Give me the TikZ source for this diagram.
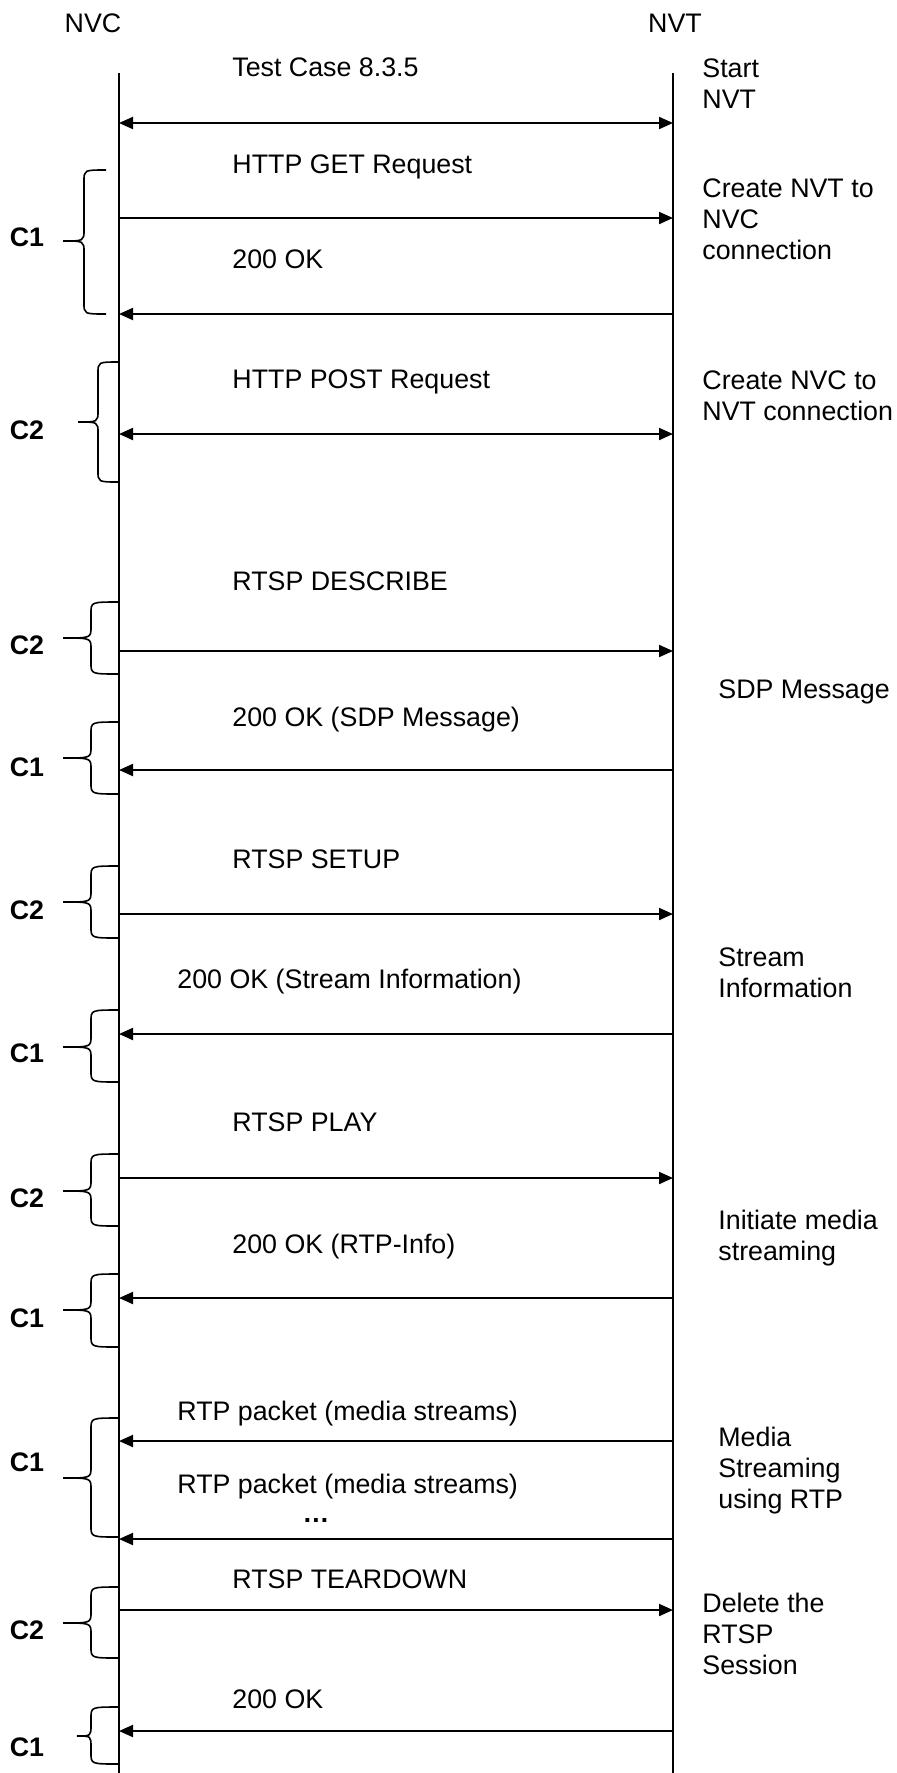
\documentclass[tikz,border=0pt]{standalone}
\usepackage{fontspec}
\setmainfont{Liberation Sans}
\usetikzlibrary{arrows.meta}

\begin{document}
\begin{tikzpicture}[
    x=0.5pt, y=-0.5pt,
    font=\fontsize{13.4pt}{15.5pt}\selectfont,
    life/.style={line width=1pt},
    msg/.style={line width=1pt, >={Triangle[length=7pt, width=6pt]}},
    lbl/.style={anchor=west, inner sep=0pt, text height=0.75em, text depth=0.25em},
    note/.style={anchor=north west, inner sep=0pt, align=left},
    brc/.style={line width=0.8pt},
    grp/.style={inner sep=0pt, font=\fontsize{13.4pt}{15.5pt}\selectfont\bfseries}
]
\useasboundingbox (0,0) rectangle (897,1773);

% Entities and lifelines
\node (nvc) [anchor=base] at (93,32) {NVC};
\node (nvt) [anchor=base] at (675,32) {NVT};
\coordinate (nvcTop) at (119,73);
\coordinate (nvcEnd) at (119,1773);
\coordinate (nvtTop) at (673,73);
\coordinate (nvtEnd) at (673,1773);
\draw [life] (nvcTop) -- (nvcEnd);
\draw [life] (nvtTop) -- (nvtEnd);

% Message end points
\foreach \y [count=\i] in {123,218,314,434,651,770,914,1034,1178,1298,1441,1539,1610,1731} {
  \coordinate (nvc\i) at (119,\y);
  \coordinate (nvt\i) at (673,\y);
}

% Messages
\draw [msg, <->] (nvc1) -- (nvt1);
\draw [msg, ->] (nvc2) -- (nvt2);
\draw [msg, <-] (nvc3) -- (nvt3);
\draw [msg, <->] (nvc4) -- (nvt4);
\draw [msg, ->] (nvc5) -- (nvt5);
\draw [msg, <-] (nvc6) -- (nvt6);
\draw [msg, ->] (nvc7) -- (nvt7);
\draw [msg, <-] (nvc8) -- (nvt8);
\draw [msg, ->] (nvc9) -- (nvt9);
\draw [msg, <-] (nvc10) -- (nvt10);
\draw [msg, <-] (nvc11) -- (nvt11);
\draw [msg, <-] (nvc12) -- (nvt12);
\draw [msg, ->] (nvc13) -- (nvt13);
\draw [msg, <-] (nvc14) -- (nvt14);

% Message labels
\node (tc) [lbl] at (232,71) {Test Case 8.3.5};
\node (get) [lbl] at (232,168) {HTTP GET Request};
\node (ok1) [lbl] at (232,263) {200 OK};
\node (post) [lbl] at (232,383) {HTTP POST Request};
\node (desc) [lbl] at (232,585) {RTSP DESCRIBE};
\node (oksdp) [lbl] at (232,721) {200 OK (SDP Message)};
\node (setup) [lbl] at (232,863) {RTSP SETUP};
\node (okstr) [lbl] at (177,983) {200 OK (Stream Information)};
\node (play) [lbl] at (232,1126) {RTSP PLAY};
\node (okrtp) [lbl] at (232,1248) {200 OK (RTP-Info)};
\node (rtp1) [lbl] at (177,1415) {RTP packet (media streams)};
\node (rtp2) [lbl] at (177,1488) {RTP packet (media streams)};
\node (dots) [anchor=base, inner sep=0pt] at (316,1522) {\textbf{…}};
\node (tear) [lbl] at (232,1583) {RTSP TEARDOWN};
\node (ok2) [lbl] at (232,1703) {200 OK};

% Notes on the NVT side
\node (start) [note] at (702,58) {Start\\NVT};
\node (cnvt) [note] at (702,178) {Create NVT to\\NVC\\connection};
\node (cnvc) [note] at (702,370) {Create NVC to\\NVT connection};
\node (sdp) [lbl] at (718,693) {SDP Message};
\node (sinfo) [note] at (718,947) {Stream\\Information};
\node (init) [note] at (718,1210) {Initiate media\\streaming};
\node (media) [note] at (718,1427) {Media\\Streaming\\using RTP};
\node (del) [note] at (702,1593) {Delete the\\RTSP\\Session};

% Connection braces
\foreach \lab/\xe/\xb/\xt/\ytop/\ybot/\ytip/\ylab [count=\i] in {
    C1/106/84/63/170/314/241/237,
    C2/119/98/78/362/482/422/430,
    C2/119/91/63/602/674/638/645,
    C1/119/91/63/722/794/758/767,
    C2/119/91/63/866/938/902/910,
    C1/119/91/63/1010/1082/1047/1053,
    C2/119/91/63/1154/1226/1191/1198,
    C1/119/91/63/1274/1347/1310/1318,
    C1/119/91/63/1418/1537/1478/1462,
    C2/119/91/63/1587/1658/1623/1630,
    C1/119/91/77/1707/1764/1736/1747} {
  \draw [brc] (\xe,\ytop) .. controls (\xb,\ytop) .. (\xb,\ytop+11)
    -- (\xb,\ytip-11) .. controls (\xb,\ytip) .. (\xt,\ytip)
    .. controls (\xb,\ytip) .. (\xb,\ytip+11)
    -- (\xb,\ybot-11) .. controls (\xb,\ybot) .. (\xe,\ybot);
  \node (grp\i) [grp] at (27,\ylab) {\lab};
}

\end{tikzpicture}
\end{document}
